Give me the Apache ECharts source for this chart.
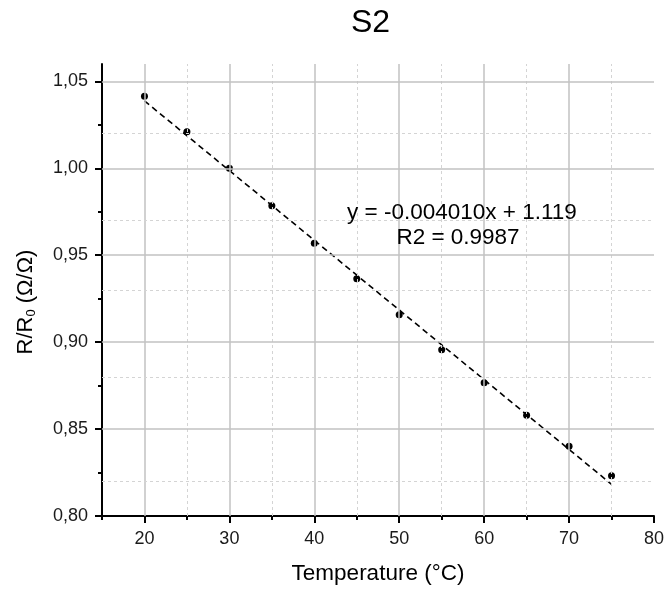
<!DOCTYPE html>
<html>
<head>
<meta charset="utf-8">
<script src="https://cdn.jsdelivr.net/npm/echarts@6/dist/echarts.min.js"></script>
<style>
  html, body { margin: 0; padding: 0; background: #fff; }
  #chart { width: 667px; height: 590px; }
</style>
</head>
<body>
<div id="chart"></div>
<script>
// Measured resistance ratio of sensor S2 versus temperature
const temperature = [20, 25, 30, 35, 40, 45, 50, 55, 60, 65, 70, 75];
const ratio = [1.0414, 1.0211, 1.0000, 0.9784, 0.9569, 0.9364, 0.9157, 0.8956, 0.8767, 0.8580, 0.8401, 0.8232];

// Linear fit reported on the chart
const fitSlope = -0.004010;
const fitIntercept = 1.119;
const fitR2 = 0.9987;

// Tick positions
const xMajor = [20, 30, 40, 50, 60, 70, 80];
const xMinor = [15, 25, 35, 45, 55, 65, 75];
const yMajor = [0.80, 0.85, 0.90, 0.95, 1.00, 1.05];
const yMinor = [0.825, 0.875, 0.925, 0.975, 1.025];

// Grid line positions (major solid, minor dotted)
const xGridMajor = [20, 30, 40, 50, 60, 70];
const xGridMinor = [25, 35, 45, 55, 65, 75];
const yGridMajor = [0.85, 0.90, 0.95, 1.00, 1.05];
const yGridMinor = [0.825, 0.875, 0.925, 0.975, 1.025];

const FONT = 'Liberation Sans, Arial, sans-serif';

const xFirst = temperature[0];
const xLast = temperature[temperature.length - 1];
const fitLine = [
  [xFirst, fitSlope * xFirst + fitIntercept],
  [xLast, fitSlope * xLast + fitIntercept]
];

const points = temperature.map((t, i) => [t, ratio[i]]);

const majorStyle = { color: '#c2c2c2', width: 1.5, type: 'solid' };
const minorStyle = { color: '#d4d4d4', width: 1, type: [3, 3] };

const gridMarks = []
  .concat(xGridMajor.map(v => ({ xAxis: v, lineStyle: majorStyle })))
  .concat(xGridMinor.map(v => ({ xAxis: v, lineStyle: minorStyle })))
  .concat(yGridMajor.map(v => ({ yAxis: v, lineStyle: majorStyle })))
  .concat(yGridMinor.map(v => ({ yAxis: v, lineStyle: minorStyle })));

const chart = echarts.init(document.getElementById('chart'), null, { renderer: 'canvas' });

chart.setOption({
  animation: false,
  backgroundColor: '#fff',
  textStyle: { fontFamily: FONT },
  title: {
    text: 'S2',
    left: 351,
    top: 7,
    padding: 0,
    textStyle: { fontFamily: FONT, fontSize: 32, fontWeight: 'normal', color: '#000' }
  },
  grid: { left: 102, right: 12, top: 64, bottom: 73, containLabel: false },
  xAxis: [
    {
      type: 'value', min: 15, max: 80, position: 'bottom',
      axisLine: { show: true, lineStyle: { color: '#000', width: 2 } },
      axisTick: { show: true, customValues: xMajor, length: 7, lineStyle: { color: '#000', width: 2 } },
      axisLabel: {
        customValues: xMajor, fontSize: 18, color: '#1a1a1a', margin: 14, fontFamily: FONT
      },
      splitLine: { show: false },
      name: 'Temperature (°C)',
      nameLocation: 'middle',
      nameGap: 46,
      nameTextStyle: { fontSize: 22.5, color: '#000', fontFamily: FONT }
    },
    {
      type: 'value', min: 15, max: 80, position: 'bottom',
      axisLine: { show: false },
      axisTick: { show: true, customValues: xMinor, length: 4, lineStyle: { color: '#000', width: 2 } },
      axisLabel: { show: false },
      splitLine: { show: false }
    }
  ],
  yAxis: [
    {
      type: 'value', min: 0.80, max: 1.06, position: 'left',
      axisLine: { show: true, lineStyle: { color: '#000', width: 2 } },
      axisTick: { show: true, customValues: yMajor, length: 7, lineStyle: { color: '#000', width: 2 } },
      axisLabel: {
        customValues: yMajor, fontSize: 18, color: '#1a1a1a', margin: 14, fontFamily: FONT,
        formatter: v => v.toFixed(2).replace('.', ',')
      },
      splitLine: { show: false },
      name: 'R/R{sub|0} (Ω/Ω)',
      nameLocation: 'middle',
      nameGap: 64,
      nameTextStyle: {
        fontSize: 22, color: '#000', fontFamily: FONT,
        padding: [0, 24, 0, 0],
        rich: { sub: { fontSize: 13, fontFamily: FONT, color: '#000', padding: [11, 0, 0, 0] } }
      }
    },
    {
      type: 'value', min: 0.80, max: 1.06, position: 'left',
      axisLine: { show: false },
      axisTick: { show: true, customValues: yMinor, length: 4, lineStyle: { color: '#000', width: 2 } },
      axisLabel: { show: false },
      splitLine: { show: false }
    }
  ],
  graphic: [
    {
      type: 'text', z: 100,
      style: {
        text: 'y = ' + fitSlope.toFixed(6) + 'x + ' + fitIntercept.toFixed(3),
        x: 462, y: 213, font: '22.5px ' + FONT, fill: '#000', align: 'center', verticalAlign: 'middle'
      }
    },
    {
      type: 'text', z: 100,
      style: {
        text: 'R2 = ' + fitR2.toFixed(4),
        x: 458, y: 238, font: '22.5px ' + FONT, fill: '#000', align: 'center', verticalAlign: 'middle'
      }
    }
  ],
  series: [
    {
      name: 'grid',
      type: 'line',
      xAxisIndex: 0, yAxisIndex: 0,
      data: [],
      z: 1,
      silent: true,
      markLine: {
        silent: true,
        symbol: ['none', 'none'],
        label: { show: false },
        animation: false,
        data: gridMarks
      }
    },
    {
      name: 'fit',
      type: 'line',
      xAxisIndex: 0, yAxisIndex: 0,
      data: fitLine,
      z: 2,
      symbol: 'none',
      lineStyle: { color: '#000', width: 1.6, type: [6, 4] }
    },
    {
      name: 'S2',
      type: 'scatter',
      xAxisIndex: 0, yAxisIndex: 0,
      data: points,
      z: 3,
      symbol: 'circle',
      symbolSize: 7,
      itemStyle: { color: '#000', opacity: 1 }
    }
  ]
});
</script>
</body>
</html>
